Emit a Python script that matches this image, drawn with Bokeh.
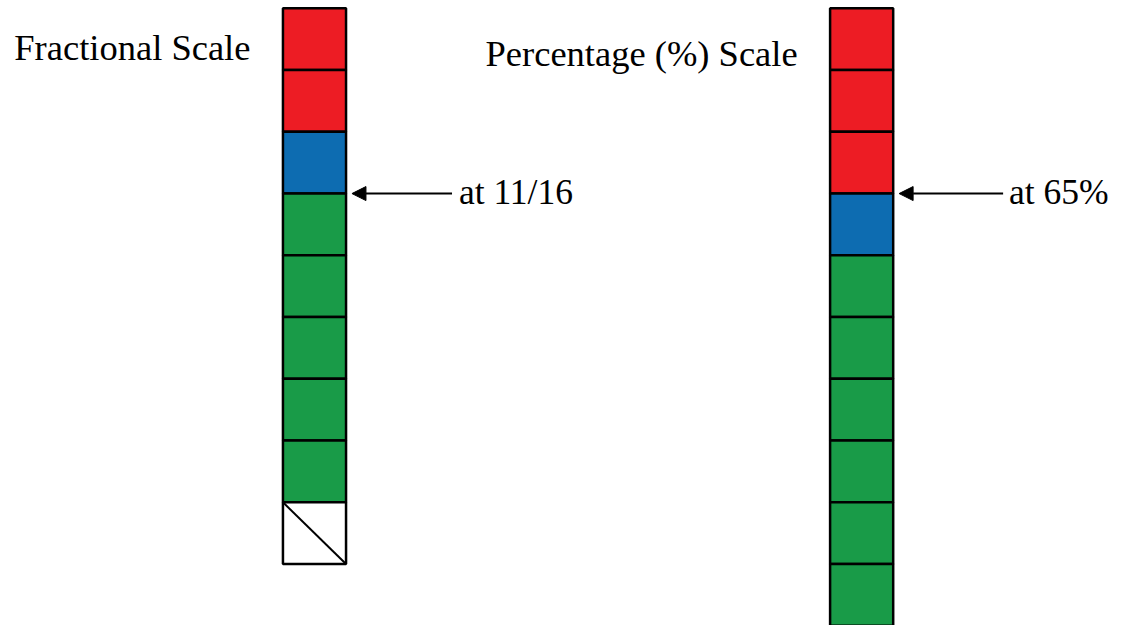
from bokeh.plotting import figure
from bokeh.models import Range1d, Arrow, NormalHead
from bokeh.core.properties import value
from bokeh.embed import file_html
from bokeh.resources import INLINE

# ---- data ----
left_cells = ["red", "red", "blue", "green", "green", "green", "green", "green", "empty"]
right_cells = ["red", "red", "red", "blue", "green", "green", "green", "green", "green", "green"]
titles = ["Fractional Scale", "Percentage (%) Scale"]
markers = ["at 11/16", "at 65%"]
marker_index = [3, 3]

# ---- style ----
palette = {"red": "#ED1C24", "blue": "#0D6CB1", "green": "#199B48", "empty": "#FFFFFF"}
REF_W, REF_H = 1131, 641
CELL_PX = 63.33
TOP_PX = 8
W, H = 1115, 625
S = W / REF_W
col_x = [318.5, 873.5]
half_w = 32
font = value("Liberation Serif")

p = figure(width=W, height=H, output_backend="svg", toolbar_location=None,
           x_range=Range1d(0, REF_W),
           y_range=Range1d((REF_H - TOP_PX) / CELL_PX, -TOP_PX / CELL_PX),
           min_border=0)
p.axis.visible = False
p.grid.visible = False
p.outline_line_color = None
p.background_fill_color = "white"

for cx, cells in zip(col_x, [left_cells, right_cells]):
    n = len(cells)
    lefts = [cx - half_w] * n
    rights = [cx + half_w] * n
    tops = list(range(n))
    bottoms = [t + 1 for t in tops]
    colors = [palette[c] for c in cells]
    p.quad(left=lefts, right=rights, top=tops, bottom=bottoms,
           fill_color=colors, line_color="black", line_width=2.5)
    for i, c in enumerate(cells):
        if c == "empty":
            p.segment(x0=[cx - half_w], y0=[i], x1=[cx + half_w], y1=[i + 1],
                      line_color="black", line_width=2)

def py(v):
    return (v - TOP_PX) / CELL_PX

fs_title = "%.1fpx" % (37 * S)
fs_mark = "%.1fpx" % (36 * S)

# titles
p.text(x=[14], y=[py(59 - 11)], text=[titles[0]], text_font=font, text_font_size=fs_title,
       text_baseline="alphabetic", text_align="left", text_color="black")
p.text(x=[492], y=[py(65 - 11)], text=[titles[1]], text_font=font, text_font_size=fs_title,
       text_baseline="alphabetic", text_align="left", text_color="black")

# arrows and marker labels
arrow_starts = [458, 1017]
label_x = [465, 1023]
for cx, idx, x0, lx, lab in zip(col_x, marker_index, arrow_starts, label_x, markers):
    tip = cx + half_w + 6
    p.add_layout(Arrow(end=NormalHead(size=14, fill_color="black", line_color="black"),
                       x_start=x0, y_start=idx, x_end=tip, y_end=idx,
                       line_color="black", line_width=2))
    p.text(x=[lx], y=[py(207 - 11)], text=[lab], text_font=font, text_font_size=fs_mark,
           text_baseline="alphabetic", text_align="left", text_color="black")

open("out.html", "w").write(file_html(p, INLINE))
